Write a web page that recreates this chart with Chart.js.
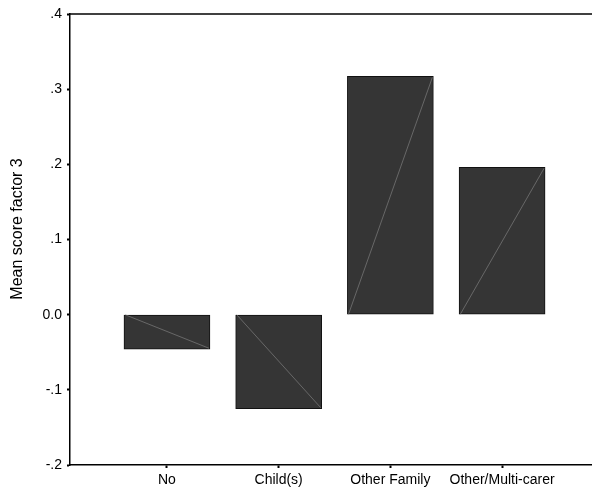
<!DOCTYPE html>
<html>
<head>
<meta charset="utf-8">
<script src="https://cdn.jsdelivr.net/npm/chart.js@4/dist/chart.umd.min.js"></script>
<style>
html,body{margin:0;padding:0;background:#fff;}
#wrap{width:592px;height:494px;position:relative;}
</style>
</head>
<body>
<div id="wrap"><canvas id="c" width="592" height="494"></canvas></div>
<script>
const categories = ["No", "Child(s)", "Other Family", "Other/Multi-carer"];
const meanScores = [-0.046, -0.125, 0.317, 0.196];
const yTickValues = [-0.2, -0.1, 0.0, 0.1, 0.2, 0.3, 0.4];
const yTickLabels = ["-.2", "-.1", "0.0", ".1", ".2", ".3", ".4"];
const yTitle = "Mean score factor 3";

const FONT = "'Liberation Sans', Arial, sans-serif";

const diagPlugin = {
  id: 'diag',
  afterDatasetsDraw(chart) {
    const ctx = chart.ctx;
    const meta = chart.getDatasetMeta(0);
    const y0 = chart.scales.y.getPixelForValue(0);
    ctx.save();
    ctx.strokeStyle = '#8a8a8a';
    ctx.lineWidth = 0.6;
    meta.data.forEach(bar => {
      const p = bar.getProps(['x', 'y', 'width'], true);
      const l = p.x - p.width / 2 + 1, r = p.x + p.width / 2 - 1;
      const yv = p.y + (p.y < y0 ? 1 : -1);
      ctx.beginPath();
      ctx.moveTo(l, y0);
      ctx.lineTo(r, yv);
      ctx.stroke();
    });
    const a = chart.chartArea;
    ctx.strokeStyle = '#000';
    ctx.lineWidth = 1.5;
    ctx.beginPath();
    ctx.moveTo(a.left, a.top);
    ctx.lineTo(chart.width, a.top);
    ctx.stroke();
    // y-axis title (real text)
    ctx.fillStyle = '#000';
    ctx.font = "16px " + FONT;
    ctx.textAlign = 'center';
    ctx.textBaseline = 'middle';
    ctx.translate(18, 229);
    ctx.rotate(-Math.PI / 2);
    ctx.fillText(yTitle, 0, 0);
    ctx.restore();
  }
};

new Chart(document.getElementById('c'), {
  type: 'bar',
  data: {
    datasets: [{
      data: categories.map((c, i) => ({ x: i, y: meanScores[i] })),
      backgroundColor: '#353535',
      borderColor: '#111',
      borderWidth: 1,
      borderSkipped: false,
      barThickness: 86
    }]
  },
  options: {
    responsive: false,
    animation: false,
    events: [],
    layout: { padding: { top: 14, right: 0, left: 0, bottom: 0 } },
    plugins: { legend: { display: false }, tooltip: { enabled: false } },
    scales: {
      x: {
        type: 'linear',
        offset: false,
        min: -0.868,
        max: 3.805,
        afterBuildTicks(scale) { scale.ticks = categories.map((c, i) => ({ value: i })); },
        afterFit(scale) { scale.height = 29; },
        grid: { display: true, offset: false, drawOnChartArea: false, tickLength: 3, color: '#000', tickWidth: 2 },
        border: { display: true, color: '#000', width: 1.5 },
        ticks: {
          callback: (v) => categories[v],
          color: '#000',
          font: { family: FONT, size: 14 },
          padding: 4,
          maxRotation: 0,
          autoSkip: false
        }
      },
      y: {
        min: -0.2,
        max: 0.4,
        afterBuildTicks(scale) { scale.ticks = yTickValues.map(v => ({ value: v })); },
        afterFit(scale) { scale.width = 70; },
        grid: { display: true, drawOnChartArea: false, tickLength: 3, color: '#000', tickWidth: 2 },
        border: { display: true, color: '#000', width: 1.5 },
        ticks: {
          callback: (v) => { const i = yTickValues.findIndex(t => Math.abs(t - v) < 1e-9); return i >= 0 ? yTickLabels[i] : ''; },
          color: '#000',
          font: { family: FONT, size: 14 },
          padding: 5
        },
        title: { display: false }
      }
    }
  },
  plugins: [diagPlugin]
});
</script>
</body>
</html>
